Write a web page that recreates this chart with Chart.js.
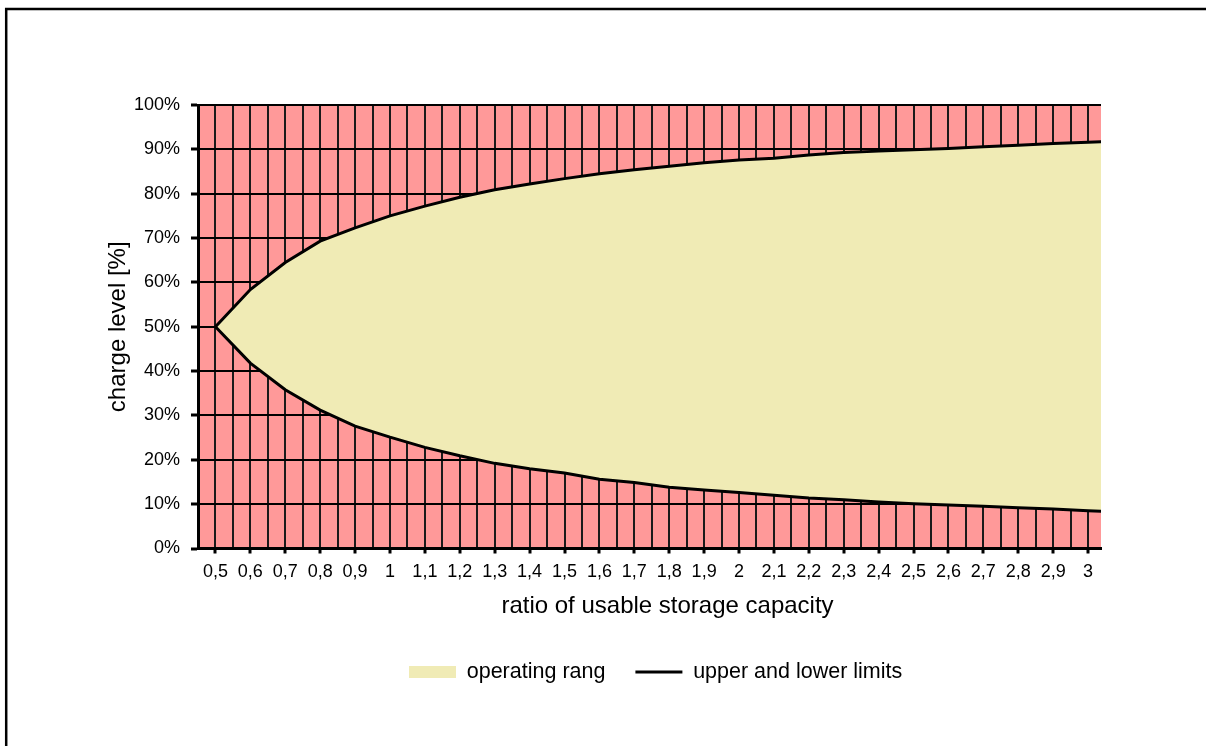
<!DOCTYPE html>
<html>
<head>
<meta charset="utf-8">
<script src="https://cdn.jsdelivr.net/npm/chart.js@4.4.1/dist/chart.umd.min.js"></script>
<style>
html,body{margin:0;padding:0;background:#fff;}
#wrap{position:relative;width:1206px;height:746px;}
</style>
</head>
<body>
<div id="wrap"><canvas id="c"></canvas></div>
<script>
// ---- data ----
const xPoints = [0.5,0.6,0.7,0.8,0.9,1.0,1.1,1.2,1.3,1.4,1.5,1.6,1.7,1.8,1.9,2.0,2.1,2.2,2.3,2.4,2.5,2.6,2.7,2.8,2.9,3.0,3.04];
const upperLimit = [50,58.4,64.5,69.3,72.3,75.0,77.2,79.2,80.9,82.2,83.4,84.5,85.4,86.2,87.0,87.6,88.0,88.7,89.3,89.6,89.9,90.2,90.6,90.9,91.3,91.6,91.7];
const lowerLimit = [50,41.8,35.8,31.2,27.6,25.1,22.8,20.9,19.2,18.0,17.0,15.6,14.9,13.8,13.2,12.6,12.0,11.4,11.0,10.5,10.1,9.8,9.5,9.2,8.9,8.5,8.4];
const categories = [0.5,0.6,0.7,0.8,0.9,1.0,1.1,1.2,1.3,1.4,1.5,1.6,1.7,1.8,1.9,2.0,2.1,2.2,2.3,2.4,2.5,2.6,2.7,2.8,2.9,3.0];
const xTickLabels = ['0,5','0,6','0,7','0,8','0,9','1','1,1','1,2','1,3','1,4','1,5','1,6','1,7','1,8','1,9','2','2,1','2,2','2,3','2,4','2,5','2,6','2,7','2,8','2,9','3'];
const yTickLabels = ['0%','10%','20%','30%','40%','50%','60%','70%','80%','90%','100%'];
const legendLabels = ['operating rang','upper and lower limits'];
const xTitle = 'ratio of usable storage capacity';
const yTitle = 'charge level [%]';

const PINK = '#FF9999';
const YELLOW = '#F0EBB5';
const FONT = '"Liberation Sans", Arial, sans-serif';
const LEGEND_START_X = 409;

const upperData = xPoints.map((x, i) => ({x, y: upperLimit[i]}));
const lowerData = xPoints.map((x, i) => ({x, y: lowerLimit[i]}));
const xGridTicks = [];
categories.forEach(c => { xGridTicks.push(+(c - 0.05).toFixed(2)); xGridTicks.push(c); });

const bgPlugin = {
  id: 'bgPlugin',
  afterLayout(chart) {
    const lg = chart.legend;
    if (!lg || !lg.lineWidths) return;
    const pad = lg.options.labels.padding;
    const cur = (lg.left + pad + lg.right - lg.lineWidths[0]) / 2;
    const d = LEGEND_START_X - cur;
    lg.left += d;
    lg.right += d;
  },
  beforeDraw(chart) {
    const ctx = chart.ctx, a = chart.chartArea;
    ctx.save();
    ctx.fillStyle = '#fff';
    ctx.fillRect(0, 0, chart.width, chart.height);
    ctx.strokeStyle = '#000';
    ctx.lineWidth = 2.5;
    ctx.beginPath();
    ctx.moveTo(6.2, chart.height + 5);
    ctx.lineTo(6.2, 9);
    ctx.lineTo(chart.width + 5, 9);
    ctx.stroke();
    ctx.fillStyle = PINK;
    ctx.fillRect(a.left, a.top, a.right - a.left, a.bottom - a.top);
    ctx.restore();
  },
  afterDraw(chart) {
    // x-axis title, placed slightly right of the plot centre as in the reference
    const ctx = chart.ctx, a = chart.chartArea, xs = chart.scales.x;
    ctx.save();
    ctx.fillStyle = '#000';
    ctx.font = '24px ' + FONT;
    ctx.textAlign = 'center';
    ctx.textBaseline = 'middle';
    ctx.fillText(xTitle, (a.left + a.right) / 2 + 18, xs.bottom - 24.75);
    ctx.restore();
  }
};

new Chart(document.getElementById('c'), {
  type: 'line',
  data: {
    datasets: [
      {
        label: legendLabels[1],
        data: lowerData,
        borderColor: '#000',
        borderWidth: 3,
        pointRadius: 0,
        fill: false,
        tension: 0
      },
      {
        label: legendLabels[0],
        data: upperData,
        borderColor: '#000',
        borderWidth: 3,
        pointRadius: 0,
        backgroundColor: YELLOW,
        fill: 0,
        tension: 0
      }
    ]
  },
  options: {
    responsive: true,
    maintainAspectRatio: false,
    animation: false,
    events: [],
    layout: { padding: { left: 8, right: 105, top: 105, bottom: 53.25 } },
    plugins: {
      tooltip: { enabled: false },
      legend: {
        position: 'bottom',
        align: 'center',
        labels: {
          usePointStyle: true,
          pointStyleWidth: 47,
          boxHeight: 12,
          padding: 30,
          color: '#000',
          font: { family: FONT, size: 21.5 },
          generateLabels: () => [
            { text: legendLabels[0], fillStyle: YELLOW, strokeStyle: YELLOW, lineWidth: 0, pointStyle: 'rect', hidden: false, fontColor: '#000', datasetIndex: 1 },
            { text: legendLabels[1], fillStyle: '#000', strokeStyle: '#000', lineWidth: 3, pointStyle: 'line', hidden: false, fontColor: '#000', datasetIndex: 0 }
          ]
        }
      }
    },
    scales: {
      x: {
        type: 'linear',
        min: 0.45,
        max: 3.037,
        afterBuildTicks: (scale) => { scale.ticks = xGridTicks.map(v => ({ value: v })); },
        afterFit: (scale) => { scale.height = 82.75; },
        ticks: {
          autoSkip: false,
          maxRotation: 0,
          minRotation: 0,
          padding: 8,
          color: '#000',
          font: { family: FONT, size: 18 },
          callback: (value, index) => (index % 2 === 1 ? xTickLabels[(index - 1) / 2] : '')
        },
        grid: {
          color: '#1a1a1a',
          lineWidth: 2,
          drawTicks: true,
          tickLength: 5,
          tickWidth: 3,
          tickColor: (ctx) => (ctx.index % 2 === 1 ? '#000' : 'rgba(0,0,0,0)')
        },
        border: { display: true, color: '#000', width: 3 },
        title: { display: false }
      },
      y: {
        type: 'linear',
        min: 0,
        max: 100,
        afterFit: (scale) => { scale.width = 190; },
        ticks: {
          stepSize: 10,
          padding: 11,
          color: '#000',
          font: { family: FONT, size: 18 },
          callback: (value, index) => yTickLabels[index]
        },
        grid: {
          color: '#000',
          lineWidth: 2,
          drawTicks: true,
          tickLength: 7,
          tickWidth: 3,
          tickColor: '#000'
        },
        border: { display: true, color: '#000', width: 3 },
        title: {
          display: true,
          text: yTitle,
          color: '#000',
          font: { family: FONT, size: 24, lineHeight: 1.2 },
          padding: { top: 95.5, bottom: 0 }
        }
      }
    }
  },
  plugins: [bgPlugin]
});
</script>
</body>
</html>
